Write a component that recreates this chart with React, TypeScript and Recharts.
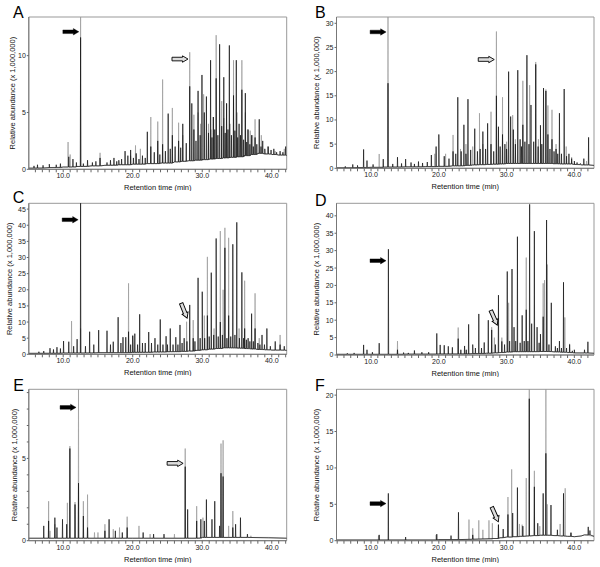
import React from 'react';
import { LineChart, Line, XAxis, YAxis, ReferenceArea, ReferenceDot, Label } from 'recharts';

type P = [number, number];

// ---------- tick labels ----------
const xTicksLeft = [6, 7, 8, 9, 10, 11, 12, 13, 14, 15, 16, 17, 18, 19, 20, 21, 22, 23, 24, 25, 26, 27, 28, 29, 30, 31, 32, 33, 34, 35, 36, 37, 38, 39, 40, 41, 42];
const xTicksRight = [5, 6, 7, 8, 9, 10, 11, 12, 13, 14, 15, 16, 17, 18, 19, 20, 21, 22, 23, 24, 25, 26, 27, 28, 29, 30, 31, 32, 33, 34, 35, 36, 37, 38, 39, 40, 41, 42];
const yTicksA = [0, 5, 10];
const yTicksB = [0, 5, 10, 15, 20, 25, 30];
const yTicksC = [0, 5, 10, 15, 20, 25, 30, 35, 40, 45];
const yTicksD = [0, 5, 10, 15, 20, 25, 30, 35, 40];
const yTicksE = [0, 1, 2, 3, 4, 5, 6, 7, 8, 9];
const yTicksF = [0, 5, 10, 15, 20];

// ---------- panel A ----------
const aBase: P[] = [[5, 0.1], [8, 0.15], [10, 0.2], [12, 0.25], [14, 0.3], [16, 0.35], [18, 0.4], [20, 0.45], [22, 0.5], [24, 0.55], [26, 0.65], [27, 0.7], [28, 0.75], [29, 0.8], [30, 0.85], [31, 0.9], [32, 0.95], [33, 1.0], [34, 1.05], [35, 1.1], [36, 1.2], [37, 1.3], [38, 1.4], [39, 1.35], [40, 1.3], [41, 1.25], [42.2, 1.2]];
const aBlack: P[] = [[5.8, 0.3], [6.3, 0.4], [7.1, 0.35], [8.0, 0.45], [9.0, 0.4], [9.6, 0.5], [10.8, 1.1], [11.4, 0.9], [11.9, 0.6], [12.5, 11.6], [12.9, 0.5], [13.5, 0.8], [14.2, 0.6], [14.7, 0.7], [15.3, 1.0], [16.3, 0.6], [16.8, 0.8], [17.3, 1.0], [17.7, 0.7], [18.0, 0.8], [18.4, 0.9], [18.9, 1.6], [19.3, 1.2], [19.7, 1.7], [20.1, 1.0], [20.5, 1.4], [20.9, 0.9], [21.4, 1.2], [21.8, 1.0], [22.1, 3.3], [22.6, 2.0], [23.1, 1.5], [23.6, 2.5], [23.9, 1.3], [24.3, 2.2], [24.7, 1.6], [25.1, 4.9], [25.4, 1.8], [25.7, 3.0], [26.1, 2.0], [26.6, 2.5], [26.9, 1.9], [27.2, 4.0], [27.7, 2.3], [28.2, 7.3], [28.5, 5.8], [28.8, 3.5], [29.1, 2.5], [29.4, 6.9], [29.7, 3.0], [29.96, 8.3], [30.3, 5.0], [30.6, 6.4], [30.9, 3.2], [31.2, 9.6], [31.4, 2.8], [31.6, 4.6], [31.8, 3.5], [32.0, 8.0], [32.25, 3.0], [32.5, 11.0], [32.8, 3.8], [33.1, 8.1], [33.3, 3.2], [33.5, 5.8], [33.7, 3.5], [33.9, 10.9], [34.2, 3.0], [34.5, 6.5], [34.7, 3.4], [34.9, 9.6], [35.1, 2.8], [35.3, 4.0], [35.5, 3.0], [35.7, 7.0], [35.95, 2.6], [36.2, 6.7], [36.4, 2.4], [36.6, 3.5], [36.85, 2.2], [37.1, 3.0], [37.35, 2.0], [37.6, 2.8], [37.85, 2.2], [38.2, 4.4], [38.45, 2.0], [38.7, 2.5], [39.0, 1.8], [39.5, 2.0], [39.9, 1.7], [40.3, 1.8], [40.7, 1.5], [41.2, 1.6], [41.6, 1.5], [42.0, 2.0]];
const aGray: P[] = [[10.7, 2.4], [11.0, 1.3], [12.5, 14], [15.3, 1.45], [19.7, 1.2], [20.4, 2.1], [21.1, 1.8], [22.6, 4.6], [23.6, 4.2], [24.3, 7.9], [25.7, 5.4], [26.6, 4.1], [27.2, 3.0], [28.2, 10.3], [28.8, 4.8], [29.4, 5.0], [29.75, 4.0], [30.2, 6.6], [30.9, 4.0], [31.25, 3.5], [31.6, 4.6], [32.0, 11.8], [32.8, 6.0], [33.1, 4.5], [33.5, 5.8], [34.0, 4.0], [34.5, 9.6], [35.0, 5.0], [35.7, 9.6], [36.2, 5.0], [36.5, 3.5], [36.9, 3.4], [37.25, 3.0], [37.6, 4.4], [38.5, 3.0], [39.4, 2.0], [40.5, 1.6], [41.8, 1.8]];
const aArrows: [number, number, string, number][] = [[11.1, 12.1, 'solid', 0], [26.8, 9.7, 'hollow', 0]];

// ---------- panel B ----------
const bBase: P[] = [[4.9, 0.1], [8, 0.15], [10, 0.2], [12, 0.25], [15, 0.3], [18, 0.35], [20, 0.4], [22, 0.5], [24, 0.6], [25, 0.7], [26, 0.75], [27, 0.8], [28, 0.85], [29, 0.9], [30, 1.0], [35, 1.0], [37, 0.95], [38, 0.9], [40, 0.8], [41, 0.7], [42.9, 0.6]];
const bBlack: P[] = [[6.2, 0.4], [7.3, 0.8], [8.0, 0.6], [8.9, 3.9], [9.4, 1.6], [10.3, 0.8], [11.8, 1.9], [12.5, 17.6], [13.2, 0.9], [13.9, 2.3], [14.5, 1.0], [15.1, 1.9], [15.9, 1.2], [16.4, 0.9], [17.0, 1.4], [17.6, 1.1], [18.3, 1.3], [18.9, 2.75], [19.6, 4.5], [20.0, 7.0], [20.8, 2.5], [21.5, 2.0], [22.1, 3.5], [22.5, 3.0], [22.8, 14.7], [23.3, 3.5], [23.7, 9.0], [24.0, 3.0], [24.3, 14.3], [24.7, 3.8], [25.3, 8.2], [25.7, 3.5], [26.1, 4.0], [26.5, 7.6], [26.9, 4.0], [27.2, 9.3], [27.7, 5.0], [28.1, 3.5], [28.5, 15.0], [28.8, 8.6], [29.05, 4.5], [29.4, 7.0], [29.75, 5.0], [30.0, 4.0], [30.3, 20.0], [30.6, 10.7], [31.0, 8.0], [31.3, 5.0], [31.65, 20.3], [32.0, 6.0], [32.2, 4.5], [32.4, 9.0], [32.7, 5.5], [33.0, 23.4], [33.3, 5.0], [33.6, 13.1], [34.0, 5.5], [34.3, 21.5], [34.65, 4.5], [35.0, 8.9], [35.2, 5.0], [35.45, 16.6], [35.8, 16.0], [36.1, 7.0], [36.4, 4.0], [36.7, 6.0], [37.0, 3.5], [37.3, 4.0], [37.55, 3.0], [37.8, 11.4], [38.1, 3.0], [38.5, 16.4], [38.85, 2.5], [39.2, 3.0], [39.6, 2.0], [40.0, 1.5], [40.4, 1.2], [40.9, 1.0], [41.4, 2.0], [42.1, 6.4]];
const bGray: P[] = [[11.2, 2.96], [12.5, 33], [19.4, 3.0], [21.0, 3.0], [22.1, 6.9], [23.2, 4.0], [24.0, 5.0], [25.0, 4.5], [26.0, 11.4], [26.5, 5.0], [27.7, 11.7], [28.5, 28.3], [29.4, 14.7], [30.0, 5.5], [30.9, 11.0], [31.3, 6.0], [32.4, 18.1], [33.4, 17.2], [34.3, 22.0], [34.7, 6.0], [35.8, 16.3], [36.1, 13.0], [36.7, 12.1], [37.3, 5.0], [38.8, 4.5], [39.6, 2.3], [41.8, 1.5]];
const bArrows: [number, number, string, number][] = [[11.04, 28.2, 'solid', 0], [27.0, 22.5, 'hollow', 0]];

// ---------- panel C ----------
const cBase: P[] = [[5, 0.3], [10, 0.4], [15, 0.5], [20, 0.6], [23, 0.7], [25, 0.8], [27, 0.9], [28, 1.0], [29, 1.2], [30, 1.4], [31, 1.6], [32, 1.8], [33, 2.0], [35, 1.9], [36, 1.8], [37, 1.65], [38, 1.5], [39, 1.4], [40, 1.3], [42.2, 1.2]];
const cBlack: P[] = [[6.5, 0.8], [7.2, 1.0], [8.1, 1.9], [8.6, 1.5], [9.1, 2.2], [9.6, 1.8], [10.05, 4.1], [10.8, 3.9], [11.5, 2.5], [12.0, 4.7], [12.5, 48], [13.2, 2.5], [13.8, 7.0], [14.4, 3.0], [15.1, 7.5], [16.3, 7.3], [16.8, 3.0], [17.2, 3.9], [17.9, 11.5], [18.3, 3.5], [18.6, 5.3], [19.0, 5.3], [19.4, 7.0], [19.7, 3.0], [20.0, 5.7], [20.3, 6.4], [20.7, 3.0], [21.0, 12.4], [21.4, 3.5], [21.8, 3.5], [22.3, 6.9], [22.7, 3.5], [23.2, 5.0], [23.6, 3.0], [23.96, 10.8], [24.35, 3.0], [24.8, 5.6], [25.0, 3.0], [25.4, 8.0], [25.8, 3.0], [26.2, 5.3], [26.5, 3.0], [26.8, 9.1], [27.1, 3.5], [27.4, 5.0], [27.8, 4.0], [28.2, 15.3], [28.7, 5.0], [28.95, 4.0], [29.4, 23.7], [29.7, 5.0], [30.0, 19.4], [30.35, 5.0], [30.74, 12.0], [31.0, 5.5], [31.3, 25.3], [31.65, 6.0], [32.0, 35.9], [32.3, 5.5], [32.6, 10.0], [32.9, 6.0], [33.26, 33.0], [33.55, 5.0], [33.8, 12.0], [34.1, 5.5], [34.4, 34.1], [34.7, 6.0], [34.97, 40.9], [35.35, 5.0], [35.7, 25.4], [35.95, 5.0], [36.1, 8.0], [36.35, 4.5], [36.6, 5.0], [36.85, 4.0], [37.1, 12.6], [37.35, 4.0], [37.6, 8.0], [38.0, 3.5], [38.3, 3.0], [38.6, 6.0], [38.95, 3.0], [39.3, 8.0], [39.8, 2.5], [40.5, 4.0], [41.2, 3.0], [41.8, 2.5]];
const cGray: P[] = [[11.2, 10.3], [12.5, 8.0], [19.4, 22.0], [20.0, 6.0], [27.75, 10.1], [28.7, 10.6], [30.3, 12.0], [30.74, 30.2], [31.7, 8.0], [32.6, 38.2], [33.0, 20.0], [33.26, 39.2], [33.8, 36.1], [35.3, 8.0], [36.1, 22.8], [37.6, 18.9], [38.2, 5.0], [41.2, 6.0]];
const cArrows: [number, number, string, number][] = [[11.0, 41.7, 'solid', 0], [27.4, 13.5, 'hollow', 68]];

// ---------- panel D ----------
const dBase: P[] = [[4.9, 0.2], [15, 0.25], [20, 0.3], [25, 0.4], [27, 0.5], [28, 0.6], [29, 0.7], [30, 0.85], [31, 0.95], [35, 1.0], [37, 0.9], [38, 0.8], [39, 0.7], [40, 0.6], [42.9, 0.5]];
const dBlack: P[] = [[6.5, 0.5], [7.5, 0.6], [8.9, 2.9], [9.4, 1.5], [10.2, 0.8], [11.2, 3.4], [12.56, 30.4], [13.9, 1.5], [14.8, 0.7], [15.5, 0.6], [16.4, 1.3], [17.5, 0.8], [18.5, 0.8], [19.7, 6.2], [20.2, 2.9], [20.8, 2.8], [21.4, 2.5], [22.0, 2.2], [22.86, 4.7], [23.25, 1.5], [23.8, 2.6], [24.05, 1.5], [24.4, 8.8], [25.0, 3.0], [25.4, 2.0], [25.9, 11.8], [26.3, 2.0], [26.7, 3.6], [27.3, 10.0], [27.8, 7.2], [28.35, 3.0], [28.8, 17.2], [29.3, 3.9], [29.7, 3.0], [30.1, 24.0], [30.45, 4.0], [30.8, 24.7], [31.1, 8.0], [31.35, 4.0], [31.6, 34.0], [32.0, 3.5], [32.3, 11.4], [32.6, 4.0], [32.9, 13.0], [33.15, 4.0], [33.4, 43.3], [33.7, 9.0], [34.1, 35.6], [34.5, 8.0], [34.8, 3.5], [35.0, 6.0], [35.4, 11.0], [35.9, 38.8], [36.25, 3.0], [36.6, 15.0], [37.2, 2.5], [37.5, 2.0], [37.8, 4.0], [38.1, 2.0], [38.4, 20.9], [38.85, 2.0], [39.3, 3.0], [39.7, 1.2], [40.0, 1.5], [41.5, 1.5], [42.0, 3.8]];
const dGray: P[] = [[13.9, 4.0], [22.86, 7.9], [27.8, 8.0], [28.2, 5.0], [29.3, 5.0], [30.3, 15.0], [32.9, 28.0], [35.4, 20.6], [35.6, 21.5], [36.0, 26.0], [38.6, 10.8], [39.3, 3.2]];
const dArrows: [number, number, string, number][] = [[11.03, 27.1, 'solid', 0], [28.15, 10.7, 'hollow', 66]];

// ---------- panel E ----------
const eBase: P[] = [[5, 0.15], [20, 0.15], [30, 0.2], [42.2, 0.15]];
const eBlack: P[] = [[7.2, 0.9], [7.9, 1.2], [8.8, 1.4], [9.1, 0.8], [9.9, 1.3], [10.5, 1.0], [10.96, 5.6], [11.7, 2.2], [12.2, 3.5], [12.9, 1.5], [13.5, 0.8], [16.0, 0.6], [16.6, 1.3], [17.5, 0.6], [18.5, 0.5], [19.2, 0.8], [21.5, 0.5], [23.0, 0.4], [24.5, 0.4], [27.55, 4.5], [27.9, 1.9], [29.2, 1.2], [29.8, 1.3], [30.3, 1.2], [30.6, 2.5], [31.4, 1.3], [31.8, 2.4], [32.5, 0.9], [32.7, 4.1], [33.0, 3.9], [34.4, 0.8], [34.8, 1.0], [35.5, 1.4], [36.5, 0.4]];
const eGray: P[] = [[7.9, 2.4], [8.1, 0.6], [8.8, 1.0], [10.6, 2.3], [10.96, 5.75], [11.7, 2.35], [12.2, 10], [12.9, 2.4], [13.5, 2.8], [14.5, 0.5], [15.0, 0.5], [16.0, 1.0], [17.2, 0.7], [18.1, 0.8], [19.2, 1.46], [20.9, 0.9], [22.5, 0.4], [26.0, 0.4], [27.55, 5.6], [29.2, 2.1], [30.1, 1.4], [32.7, 5.9], [33.0, 6.1], [33.8, 0.9], [34.4, 1.8], [37.0, 0.3], [39.5, 0.2]];
const eArrows: [number, number, string, number][] = [[10.7, 8.1, 'solid', 0], [26.1, 4.7, 'hollow', 0]];

// ---------- panel F ----------
const fBase: P[] = [[4.9, 0.1], [20, 0.15], [25, 0.2], [28, 0.3], [29, 0.4], [30, 0.5], [31, 0.55], [32, 0.6], [33, 0.65], [34, 0.7], [35, 0.75], [36, 0.75], [37, 0.7], [38, 0.65], [39, 0.6], [40, 0.55], [41, 0.65], [41.5, 0.8], [42.9, 0.6]];
const fBlack: P[] = [[11.2, 0.8], [12.55, 6.5], [15.1, 0.5], [19.7, 0.9], [21.8, 0.7], [22.9, 3.9], [25.0, 0.8], [28.8, 2.2], [29.5, 1.6], [30.2, 3.6], [30.9, 3.8], [31.6, 7.3], [32.4, 2.0], [33.35, 19.5], [34.1, 7.4], [34.6, 2.4], [35.4, 6.5], [35.8, 12.0], [36.55, 4.9], [37.5, 1.5], [38.4, 6.5], [39.5, 1.1], [42.05, 1.9], [42.3, 1.4]];
const fGray: P[] = [[11.1, 0.7], [19.6, 0.8], [24.45, 2.9], [25.0, 1.7], [25.9, 2.8], [26.5, 1.5], [27.4, 2.8], [27.9, 2.4], [28.8, 2.2], [30.2, 6.0], [30.75, 9.8], [31.9, 2.3], [32.3, 2.2], [32.9, 8.6], [33.35, 21], [34.1, 9.6], [34.9, 2.0], [35.8, 21], [36.0, 5.0], [37.9, 2.3], [38.65, 7.2], [39.5, 1.1]];
const fArrows: [number, number, string, number][] = [[11.03, 5.1, 'solid', 0], [28.3, 3.6, 'hollow', 66]];

// ---------- helpers ----------
function buildTrace(base: P[], peaks: P[]) {
  const pts: { t: number; v: number }[] = base.map(([t, v]) => ({ t, v }));
  for (const [t, h] of peaks) {
    let foot = base[0][1];
    for (const [bt, bv] of base) if (bt <= t) foot = bv;
    pts.push({ t: t - 0.035, v: foot }, { t, v: h }, { t: t + 0.035, v: foot });
  }
  return pts.sort((a, b) => a.t - b.t);
}

const arrowShape = (kind: string, angle: number) => (p: any) => {
  const { cx, cy } = p;
  return (
    <path
      d="M-8,-1.8 L2.5,-1.8 L2.5,-3.2 L8,0 L2.5,3.2 L2.5,1.8 L-8,1.8 Z"
      transform={`translate(${cx},${cy}) rotate(${angle})`}
      fill={kind === 'solid' ? '#000' : '#dcdcdc'}
      stroke="#000"
      strokeWidth={kind === 'solid' ? 0.4 : 0.9}
    />
  );
};

interface PanelCfg {
  letter: string;
  letterPos: [number, number];
  box: [number, number, number, number];
  plot: [number, number, number, number];
  xDomain: [number, number];
  xTicks: number[];
  yMax: number;
  yTicks: number[];
  yLabelOffset: number;
  base: P[];
  black: P[];
  gray: P[];
  arrows: [number, number, string, number][];
}

const XAXIS_H = 21;
const FONT = 'Liberation Sans, Arial, sans-serif';

function Panel({ cfg }: { cfg: PanelCfg }) {
  const [bx, by, bw, bh] = cfg.box;
  const [L, T, R, B] = cfg.plot;
  const yw = L - bx;
  const margin = { top: T - by, right: bx + bw - R, left: 0, bottom: by + bh - B - XAXIS_H };
  const blackData = buildTrace(cfg.base, cfg.black);
  const grayData = buildTrace(cfg.base, cfg.gray);
  return (
    <>
      <div style={{ position: 'absolute', left: bx, top: by }}>
        <LineChart width={bw} height={bh} margin={margin}>
          <XAxis
            type="number"
            dataKey="t"
            domain={cfg.xDomain}
            allowDataOverflow
            ticks={cfg.xTicks}
            interval={0}
            tickFormatter={(v: number) => (v % 10 === 0 ? v.toFixed(1) : '')}
            tickSize={3}
            tickMargin={1}
            height={XAXIS_H}
            axisLine={{ stroke: '#777' }}
            tickLine={{ stroke: '#666' }}
            tick={{ fontSize: 7, fill: '#222', fontFamily: FONT }}
          >
            <Label value="Retention time (min)" position="insideBottom" offset={0} style={{ fontSize: 7.5, fill: '#111', fontFamily: FONT }} />
          </XAxis>
          <YAxis
            type="number"
            domain={[0, cfg.yMax]}
            allowDataOverflow
            ticks={cfg.yTicks}
            interval={0}
            tickFormatter={(v: number) => (v % 5 === 0 ? String(v) : '')}
            width={yw}
            tickSize={2}
            tickMargin={1}
            axisLine={{ stroke: '#777' }}
            tickLine={{ stroke: '#666' }}
            tick={{ fontSize: 7, fill: '#222', fontFamily: FONT }}
          >
            <Label
              value="Relative abundance (x 1,000,000)"
              angle={-90}
              position="insideLeft"
              offset={cfg.yLabelOffset}
              textAnchor="middle"
              style={{ fontSize: 7.5, fill: '#111', fontFamily: FONT, textAnchor: 'middle' }}
            />
          </YAxis>
          <ReferenceArea x1={cfg.xDomain[0]} x2={cfg.xDomain[1]} y1={0} y2={cfg.yMax} fill="none" stroke="#999" strokeWidth={1} ifOverflow="visible" />
          <Line data={grayData} dataKey="v" type="linear" dot={false} stroke="#9a9a9a" strokeWidth={0.7} isAnimationActive={false} />
          <Line data={blackData} dataKey="v" type="linear" dot={false} stroke="#111" strokeWidth={0.7} isAnimationActive={false} />
          {cfg.arrows.map(([t, v, kind, angle], i) => (
            <ReferenceDot key={i} x={t} y={v} r={3} ifOverflow="visible" shape={arrowShape(kind, angle)} />
          ))}
        </LineChart>
      </div>
      <div style={{ position: 'absolute', left: cfg.letterPos[0], top: cfg.letterPos[1], fontSize: 16, lineHeight: '16px', fontFamily: FONT, color: '#000' }}>
        {cfg.letter}
      </div>
    </>
  );
}

const LEFT_DOM: [number, number] = [5.05, 42.15];
const RIGHT_DOM: [number, number] = [4.9, 42.9];

const panels: PanelCfg[] = [
  { letter: 'A', letterPos: [13, 4.7], box: [0, 0, 300, 191], plot: [28.8, 17, 286.7, 169.3], xDomain: LEFT_DOM, xTicks: xTicksLeft, yMax: 13.4, yTicks: yTicksA, yLabelOffset: 12, base: aBase, black: aBlack, gray: aGray, arrows: aArrows },
  { letter: 'B', letterPos: [315, 4.7], box: [300, 0, 300, 191], plot: [336.5, 17, 594, 168.3], xDomain: RIGHT_DOM, xTicks: xTicksRight, yMax: 31.3, yTicks: yTicksB, yLabelOffset: 16, base: bBase, black: bBlack, gray: bGray, arrows: bArrows },
  { letter: 'C', letterPos: [12.7, 190], box: [0, 185, 300, 191], plot: [28.8, 203.3, 286.7, 354.3], xDomain: LEFT_DOM, xTicks: xTicksLeft, yMax: 46.8, yTicks: yTicksC, yLabelOffset: 9, base: cBase, black: cBlack, gray: cGray, arrows: cArrows },
  { letter: 'D', letterPos: [315, 193], box: [300, 185, 300, 192], plot: [336.5, 203.3, 594, 355], xDomain: RIGHT_DOM, xTicks: xTicksRight, yMax: 43.6, yTicks: yTicksD, yLabelOffset: 16, base: dBase, black: dBlack, gray: dGray, arrows: dArrows },
  { letter: 'E', letterPos: [13.3, 378], box: [0, 375, 300, 188], plot: [28.8, 389.3, 286.7, 540.7], xDomain: LEFT_DOM, xTicks: xTicksLeft, yMax: 9.2, yTicks: yTicksE, yLabelOffset: 14, base: eBase, black: eBlack, gray: eGray, arrows: eArrows },
  { letter: 'F', letterPos: [315, 378], box: [300, 375, 300, 188], plot: [336.5, 389.3, 594, 540.7], xDomain: RIGHT_DOM, xTicks: xTicksRight, yMax: 20.8, yTicks: yTicksF, yLabelOffset: 16.5, base: fBase, black: fBlack, gray: fGray, arrows: fArrows },
];

export default function App() {
  return (
    <div style={{ position: 'absolute', left: 0, top: 0, width: 600, height: 567, background: '#fff', overflow: 'hidden' }}>
      {panels.map((p) => (
        <Panel key={p.letter} cfg={p} />
      ))}
    </div>
  );
}
